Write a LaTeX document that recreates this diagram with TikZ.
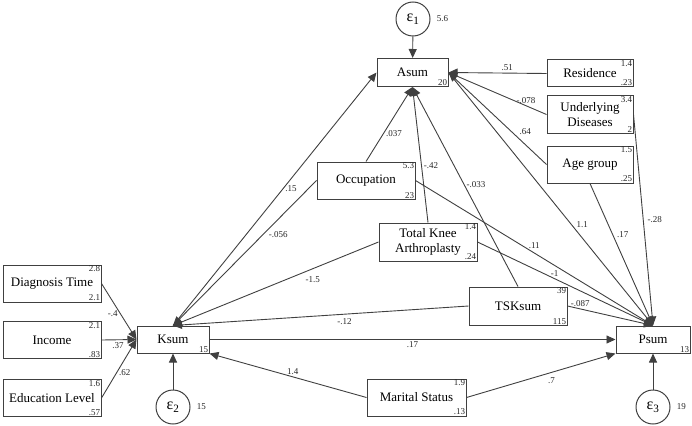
\documentclass[tikz,border=0pt]{standalone}
\usepackage{fontspec}
\setmainfont{Liberation Serif}
\newfontfamily\semfont{Liberation Serif}
\usetikzlibrary{arrows.meta,positioning}
\definecolor{semline}{gray}{0.25}

\begin{document}
\begin{tikzpicture}[x=1pt, y=1pt,
	var/.style={draw=semline, line width=1pt, rectangle, inner sep=0pt, align=center, font=\semfont\fontsize{13}{15}\selectfont},
	err/.style={draw=semline, line width=1pt, circle, minimum size=34pt, inner sep=0pt, font=\semfont\fontsize{16}{18}\selectfont},
	num/.style={inner sep=1.2pt, font=\semfont\fontsize{9}{10}\selectfont, text=black!85},
	lbl/.style={inner sep=2pt, font=\semfont\fontsize{9}{10}\selectfont, text=black!85},
	arr/.style={draw=semline, line width=0.9pt, -{Triangle[length=9pt, width=8pt]}}]
		\useasboundingbox (0,0) rectangle (692,-425);
		
		\node[var, minimum width=71pt, minimum height=28pt] (asum) at (412.5,-72.5) {Asum};
		\node[var, minimum width=72pt, minimum height=27pt] (ksum) at (173,-339.5) {Ksum};
		\node[var, minimum width=74pt, minimum height=27pt] (psum) at (653,-339.5) {Psum};
		\node[var, minimum width=86pt, minimum height=27pt] (res) at (590,-73.5) {Residence};
		\node[var, minimum width=86pt, minimum height=37pt] (und) at (590,-114.5) {Underlying\\Diseases};
		\node[var, minimum width=86pt, minimum height=37pt] (age) at (590,-164.5) {Age group};
		\node[var, minimum width=98pt, minimum height=37pt] (occ) at (366,-180.5) {Occupation};
		\node[var, minimum width=98pt, minimum height=38pt] (tka) at (428,-242) {Total Knee\\Arthroplasty};
		\node[var, minimum width=98pt, minimum height=38pt] (tsk) at (518,-306) {TSKsum};
		\node[var, minimum width=99pt, minimum height=37pt] (mar) at (416.5,-397.5) {Marital Status};
		\node[var, minimum width=98pt, minimum height=37pt] (diag) at (52,-283.5) {Diagnosis Time};
		\node[var, minimum width=98pt, minimum height=37pt] (inc) at (52,-340) {Income};
		\node[var, minimum width=98pt, minimum height=37pt] (edu) at (52,-398) {Education Level};
		
		\node[err] (e1) at (413,-19) {ε\textsubscript{1}};
		\node[err] (e2) at (173,-407) {ε\textsubscript{2}};
		\node[err] (e3) at (653,-407) {ε\textsubscript{3}};
		\node[num, right=5pt of e1] (e1v) {5.6};
		\node[num, right=5pt of e2] (e2v) {15};
		\node[num, right=5pt of e3] (e3v) {19};
		
		\node[num, anchor=south east] (asumv) at (asum.south east) {20};
		\node[num, anchor=south east] (ksumv) at (ksum.south east) {15};
		\node[num, anchor=south east] (psumv) at (psum.south east) {13};
		\node[num, anchor=north east] (resm) at (res.north east) {1.4};
		\node[num, anchor=south east] (resv) at (res.south east) {.23};
		\node[num, anchor=north east] (undm) at (und.north east) {3.4};
		\node[num, anchor=south east] (undv) at (und.south east) {2};
		\node[num, anchor=north east] (agem) at (age.north east) {1.5};
		\node[num, anchor=south east] (agev) at (age.south east) {.25};
		\node[num, anchor=north east] (occm) at (occ.north east) {5.3};
		\node[num, anchor=south east] (occv) at (occ.south east) {23};
		\node[num, anchor=north east] (tkam) at (tka.north east) {1.4};
		\node[num, anchor=south east] (tkav) at (tka.south east) {.24};
		\node[num, anchor=north east] (tskm) at (tsk.north east) {39};
		\node[num, anchor=south east] (tskv) at (tsk.south east) {115};
		\node[num, anchor=north east] (marm) at (mar.north east) {1.9};
		\node[num, anchor=south east] (marv) at (mar.south east) {.13};
		\node[num, anchor=north east] (diagm) at (diag.north east) {2.8};
		\node[num, anchor=south east] (diagv) at (diag.south east) {2.1};
		\node[num, anchor=north east] (incm) at (inc.north east) {2.1};
		\node[num, anchor=south east] (incv) at (inc.south east) {.83};
		\node[num, anchor=north east] (edum) at (edu.north east) {1.6};
		\node[num, anchor=south east] (eduv) at (edu.south east) {.57};
		
		\draw[arr] (e1) to (asum);
		\draw[arr] (e2) to (ksum);
		\draw[arr] (e3) to (psum);
		
		\draw[arr] (res.west) to node[lbl, pos=.4, above] (lres) {.51} (asum.east);
		\draw[arr] (und.west) to node[lbl, pos=.21, above] (lund) {-.078} (asum.east);
		\draw[arr] (age.west) to node[lbl, pos=.3, above right] (lage) {.64} (asum.east);
		\draw[arr] (occ.north) to node[lbl, pos=.38, right] (locc) {.037} (asum.south);
		\draw[arr] (tka.north) to node[lbl, pos=.42, right] (ltka) {-.42} (asum.south);
		\draw[arr] (tsk.north) to node[lbl, pos=.51, right] (ltsk) {-.033} (asum.south);
		\draw[arr] (ksum.north) to node[lbl, pos=.54, right] (lks) {.15} (asum.west);
		
		\draw[arr] (occ.west) to node[lbl, pos=.37, right=3pt] (locck) {-.056} (ksum.north);
		\draw[arr] (tka.west) to node[lbl, pos=.32, below=5pt] (ltkak) {-1.5} (ksum.north);
		\draw[arr] (tsk.west) to node[lbl, pos=.42, below=2pt] (ltskk) {-.12} (ksum.north);
		\draw[arr] (mar.west) to node[lbl, pos=.47, above] (lmark) {1.4} (ksum.south east);
		\draw[arr] (diag.east) to node[lbl, pos=.53, left] (ldiag) {-.4} (ksum.west);
		\draw[arr] (inc.east) to node[lbl, pos=.47, below] (linc) {.37} (ksum.west);
		\draw[arr] (edu.east) to node[lbl, pos=.43, right] (ledu) {.62} (ksum.west);
		
		\draw[arr] (ksum.east) to node[lbl, pos=.5, below] (lkp) {.17} (psum.west);
		\draw[arr] (mar.east) to node[lbl, pos=.57, below=3pt] (lmarp) {.7} (psum.south west);
		\draw[arr] (asum.east) to node[lbl, pos=.6, right=3pt] (lap) {1.1} (psum.north);
		\draw[arr] (age.south) to node[lbl, pos=.36, right=2pt] (lagep) {.17} (psum.north);
		\draw[arr] (und.east) to node[lbl, pos=.5, right=2pt] (lundp) {-.28} (psum.north);
		\draw[arr] (occ.east) to node[lbl, pos=.5, above=2pt] (loccp) {.11} (psum.north);
		\draw[arr] (tka.east) to node[lbl, pos=.44, above] (ltkap) {-1} (psum.north);
		\draw[arr] (tsk.east) to node[lbl, pos=.15, above] (ltskp) {-.087} (psum.north);
		
	\end{tikzpicture}
\end{document}
